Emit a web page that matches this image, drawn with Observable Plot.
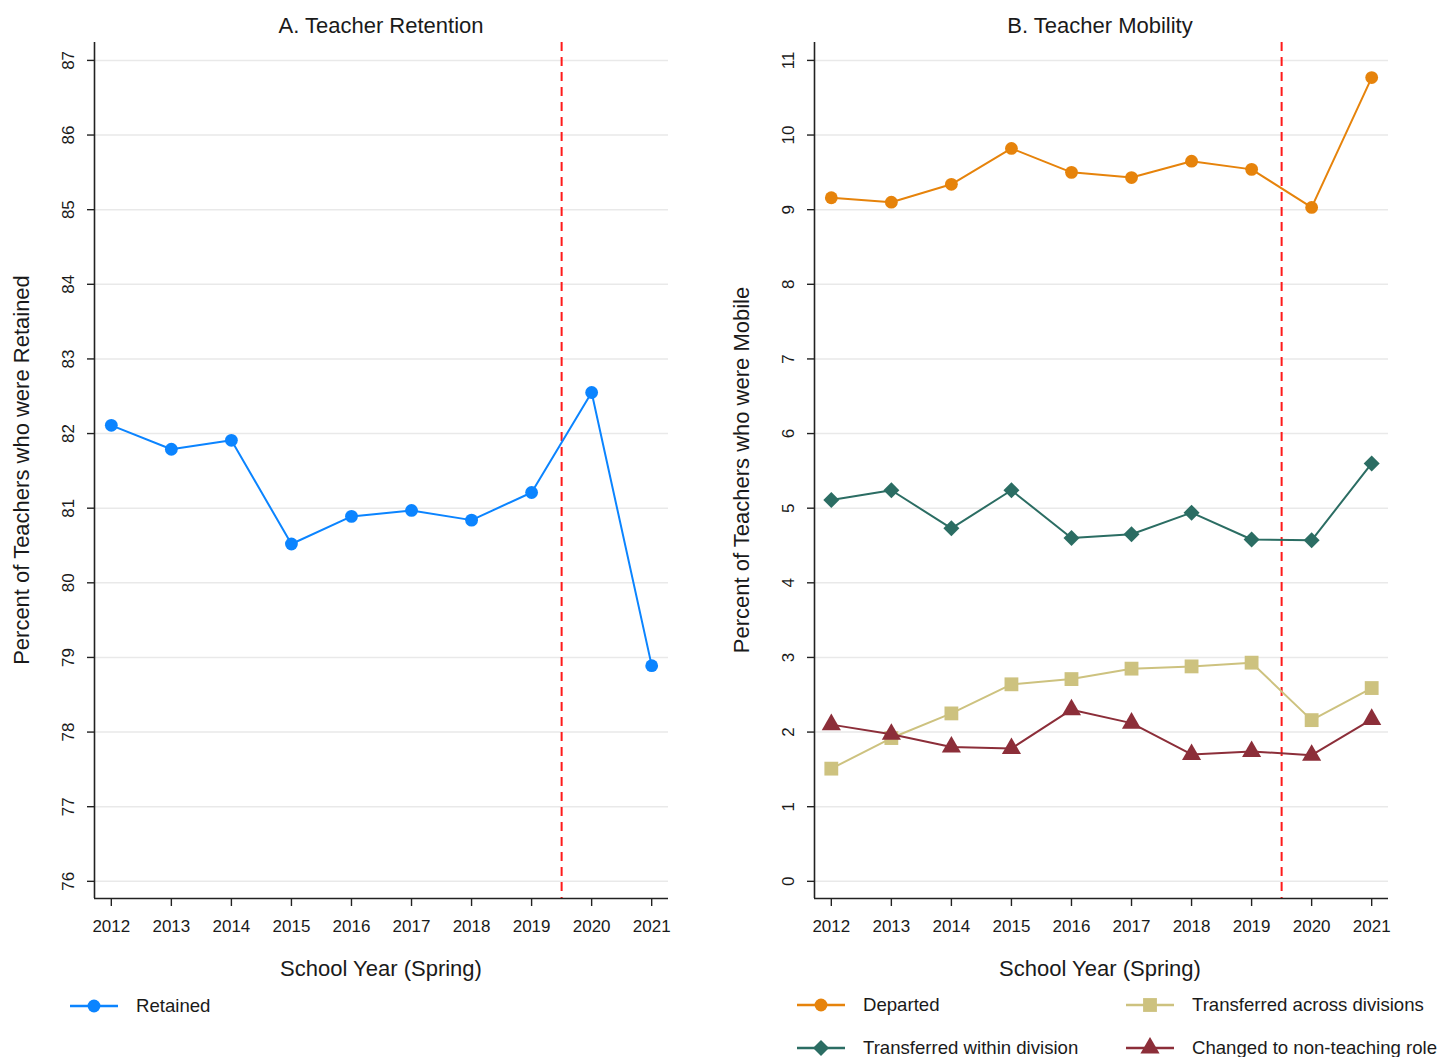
<!DOCTYPE html>
<html>
<head>
<meta charset="utf-8">
<script src="https://cdn.jsdelivr.net/npm/d3@7"></script>
<script src="https://cdn.jsdelivr.net/npm/@observablehq/plot@0.6"></script>
<style>
  html, body { margin: 0; padding: 0; background: #fff; }
  body { width: 1455px; height: 1057px; overflow: hidden; position: relative;
         font-family: "Liberation Sans", Arial, sans-serif; color: #1a1a1a; }
  .abs { position: absolute; white-space: nowrap; }
  .title { font-size: 22px; transform: translate(-50%, -50%); }
  .xlab { font-size: 22px; transform: translate(-50%, -50%); }
  .ylab { font-size: 22px; transform: translate(-50%, -50%) rotate(-90deg); }
  .leg { display: flex; align-items: center; font-size: 18.6px; transform: translateY(-50%); }
  .leg svg { margin-right: 18px; }
</style>
</head>
<body>
<script>
// School years (spring) and the series shown in each panel
const years = [2012, 2013, 2014, 2015, 2016, 2017, 2018, 2019, 2020, 2021];
const retained    = [82.11, 81.79, 81.91, 80.52, 80.89, 80.97, 80.84, 81.21, 82.55, 78.89];
const departed    = [9.16, 9.10, 9.34, 9.82, 9.50, 9.43, 9.65, 9.54, 9.03, 10.77];
const withinDiv   = [5.11, 5.24, 4.73, 5.24, 4.60, 4.65, 4.94, 4.58, 4.57, 5.60];
const acrossDiv   = [1.51, 1.92, 2.25, 2.64, 2.71, 2.85, 2.88, 2.93, 2.16, 2.59];
const nonTeaching = [2.10, 1.97, 1.80, 1.78, 2.30, 2.12, 1.70, 1.74, 1.69, 2.17];
const leftTicks  = d3.range(76, 88);
const rightTicks = d3.range(0, 12);
const covidCut = 2019.5;

const mobilitySeries = [
  {name: "Departed", values: departed, color: "#e6830b", symbol: "circle", r: 6.4},
  {name: "Transferred within division", values: withinDiv, color: "#2b6d63", symbol: "diamond2", r: 7.2},
  {name: "Transferred across divisions", values: acrossDiv, color: "#cdc27f", symbol: "square", r: 7.8},
  {name: "Changed to non-teaching role", values: nonTeaching, color: "#8c2e39", symbol: "triangle", r: 7.1}
];
const retainedColor = "#0b84ff";

const font = '"Liberation Sans", Arial, sans-serif';
const xDomain = [2011.72, 2021.28];

function panel({series, yDomain, yTicks}) {
  const rows = series.flatMap(s => years.map((year, i) => ({year, value: s.values[i], name: s.name})));
  const marks = [
    Plot.gridY(yTicks, {stroke: "#e9e9e9", strokeOpacity: 1, strokeWidth: 1.5}),
    Plot.ruleX([covidCut], {stroke: "#ff1a1a", strokeWidth: 2, strokeDasharray: "9,6"}),
    Plot.ruleX([xDomain[0]], {stroke: "#222", strokeWidth: 1.6}),
    Plot.ruleY([yDomain[0]], {stroke: "#222", strokeWidth: 1.6}),
    Plot.axisX({ticks: years, tickFormat: "d", tickSize: 8, tickPadding: 13, fontSize: 17, stroke: "#222", strokeWidth: 1.4, label: null}),
    Plot.axisY({ticks: yTicks, tickRotate: -90, tickSize: 7, tickPadding: 14, fontSize: 17, stroke: "#222", strokeWidth: 1.4, label: null})
  ];
  for (const s of series) {
    const data = rows.filter(d => d.name === s.name);
    marks.push(Plot.line(data, {x: "year", y: "value", stroke: s.color, strokeWidth: 2}));
    marks.push(Plot.dot(data, {x: "year", y: "value", fill: s.color, stroke: "none", symbol: () => s.symbol, r: s.r}));
  }
  return Plot.plot({
    width: 700, height: 940,
    marginLeft: 94, marginRight: 32, marginTop: 42, marginBottom: 42,
    style: {fontFamily: font, color: "#1a1a1a", background: "transparent", overflow: "visible"},
    x: {domain: xDomain, axis: null},
    y: {domain: yDomain, axis: null},
    symbol: {type: "identity"},
    marks
  });
}

function place(el, left, top) {
  el.style.position = "absolute";
  el.style.left = left + "px";
  el.style.top = top + "px";
  document.body.appendChild(el);
}

function text(cls, str, left, top) {
  const d = document.createElement("div");
  d.className = "abs " + cls;
  d.textContent = str;
  d.style.left = left + "px";
  d.style.top = top + "px";
  document.body.appendChild(d);
}

function legendItem(s, left, top) {
  const item = document.createElement("div");
  item.className = "abs leg";
  item.style.left = left + "px";
  item.style.top = top + "px";
  const svg = d3.create("svg").attr("width", 48).attr("height", 22);
  svg.append("line").attr("x1", 0).attr("x2", 48).attr("y1", 11).attr("y2", 11)
    .attr("stroke", s.color).attr("stroke-width", 2.6);
  const sym = {circle: d3.symbolCircle, diamond2: d3.symbolDiamond2, square: d3.symbolSquare, triangle: d3.symbolTriangle}[s.symbol];
  svg.append("path").attr("transform", "translate(24,11)")
    .attr("d", d3.symbol(sym, Math.PI * s.r * s.r)()).attr("fill", s.color);
  item.appendChild(svg.node());
  const label = document.createElement("span");
  label.textContent = s.name;
  item.appendChild(label);
  document.body.appendChild(item);
}

// Panel A: retention
const retainedSeries = [{name: "Retained", values: retained, color: retainedColor, symbol: "circle", r: 6.4}];
place(panel({series: retainedSeries, yDomain: [75.77, 87.24], yTicks: leftTicks}), 0, 0);
text("title", "A. Teacher Retention", 381, 26);
text("xlab", "School Year (Spring)", 381, 969);
text("ylab", "Percent of Teachers who were Retained", 22, 470);
legendItem(retainedSeries[0], 70, 1006);

// Panel B: mobility
place(panel({series: mobilitySeries, yDomain: [-0.23, 11.24], yTicks: rightTicks}), 720, 0);
text("title", "B. Teacher Mobility", 1100, 26);
text("xlab", "School Year (Spring)", 1100, 969);
text("ylab", "Percent of Teachers who were Mobile", 742, 470);
legendItem(mobilitySeries[0], 797, 1005);
legendItem(mobilitySeries[2], 1126, 1005);
legendItem(mobilitySeries[1], 797, 1048);
legendItem(mobilitySeries[3], 1126, 1048);
</script>
</body>
</html>
